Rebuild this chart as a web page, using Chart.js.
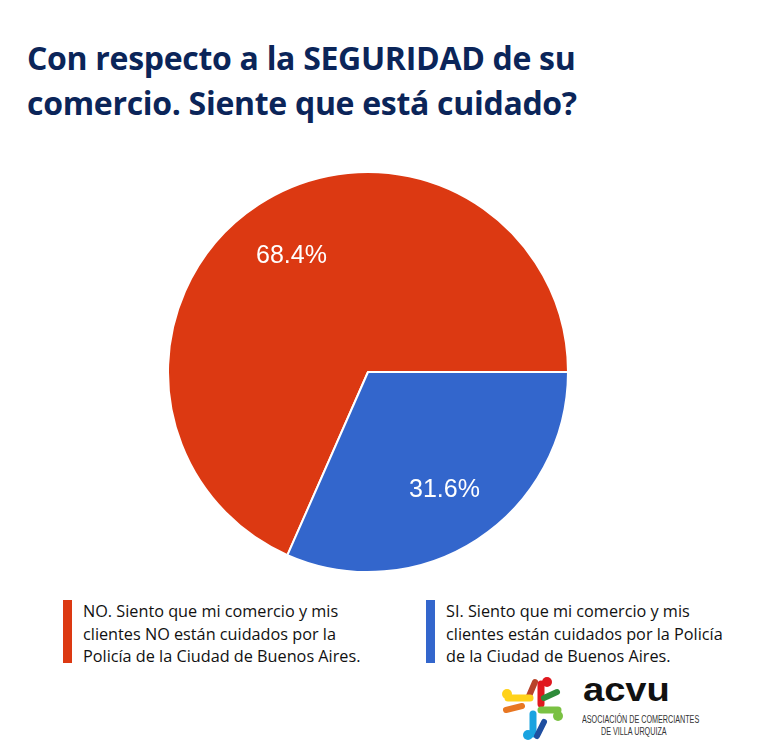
<!DOCTYPE html>
<html>
<head>
<meta charset="utf-8">
<script src="https://cdn.jsdelivr.net/npm/chart.js@4.4.0/dist/chart.umd.min.js"></script>
<style>
  body { margin: 0; background: #fff; width: 770px; height: 756px; position: relative; overflow: hidden; }
  #title { position: absolute; left: 27px; top: 35px; margin: 0; font-family: 'Open Sans', sans-serif; font-weight: 700;
    font-size: 32px; line-height: 45px; color: #0b2559; letter-spacing: -0.3px; white-space: nowrap; }
  #chartBox { position: absolute; left: 163px; top: 167px; width: 410px; height: 410px; }
  .leg { position: absolute; top: 600px; height: 63px; font-family: 'Open Sans', sans-serif; font-size: 17px; line-height: 22.5px;
    color: #111; padding-left: 11px; border-left: 9px solid; white-space: nowrap; transform-origin: left top; }
  #logo { position: absolute; left: 500px; top: 674px; }
  #acvu { position: absolute; left: 583px; top: 672px; font-family: 'Liberation Sans', Arial, sans-serif; font-weight: 700;
    font-size: 34px; line-height: 34px; color: #111; transform: scaleX(1.12); transform-origin: left top; }
  .sub { position: absolute; font-family: 'Liberation Sans', Arial, sans-serif; font-size: 10px; line-height: 10px; color: #333;
    transform-origin: left top; white-space: nowrap; }
</style>
</head>
<body>
<h1 id="title">Con respecto a la SEGURIDAD de su<br>comercio. Siente que está cuidado?</h1>
<div id="chartBox"><canvas id="pie"></canvas></div>
<div id="legend"></div>
<canvas id="logo" width="64" height="68"></canvas>
<div id="acvu">acvu</div>
<div class="sub" style="left:582px; top:715px; transform: scaleX(0.72);">ASOCIACIÓN DE COMERCIANTES</div>
<div class="sub" style="left:601px; top:727px; transform: scaleX(0.72);">DE VILLA URQUIZA</div>
<script>
const labels = [
  'NO. Siento que mi comercio y mis clientes NO están cuidados por la Policía de la Ciudad de Buenos Aires.',
  'SI. Siento que mi comercio y mis clientes están cuidados por la Policía de la Ciudad de Buenos Aires.'
]
const legendLines = [
  ['NO. Siento que mi comercio y mis', 'clientes NO están cuidados por la', 'Policía de la Ciudad de Buenos Aires.'],
  ['SI. Siento que mi comercio y mis', 'clientes están cuidados por la Policía', 'de la Ciudad de Buenos Aires.']
]
const values = [68.4, 31.6]
const colors = ['#dc3912', '#3366cc']

// blue slice begins at 3 o'clock, red follows it
const rotation = 90 + values[1] * 3.6

const pctLabels = {
  id: 'pctLabels',
  afterDatasetsDraw(chart) {
    const ctx = chart.ctx
    const meta = chart.getDatasetMeta(0)
    ctx.save()
    ctx.fillStyle = '#fff'
    ctx.font = '25px "Liberation Sans", Arial, sans-serif'
    ctx.textAlign = 'center'
    ctx.textBaseline = 'middle'
    meta.data.forEach((arc, i) => {
      const mid = (arc.startAngle + arc.endAngle) / 2
      const r = arc.outerRadius * 0.7
      ctx.fillText(values[i].toFixed(1) + '%', arc.x + Math.cos(mid) * r, arc.y + Math.sin(mid) * r + 1)
    })
    ctx.restore()
  }
}

new Chart(document.getElementById('pie'), {
  type: 'pie',
  data: {
    labels: labels,
    datasets: [{
      data: values,
      backgroundColor: colors,
      borderColor: '#ffffff',
      borderWidth: 2,
    }]
  },
  options: {
    responsive: true,
    maintainAspectRatio: false,
    animation: false,
    rotation: rotation,
    layout: { padding: 4 },
    plugins: {
      legend: { display: false },
      tooltip: { enabled: false }
    }
  },
  plugins: [pctLabels]
})

// legend built from the same labels / colours
const legend = document.getElementById('legend')
const legX = [63, 426]
legendLines.forEach((lines, i) => {
  const d = document.createElement('div')
  d.className = 'leg'
  d.style.left = legX[i] + 'px'
  d.style.borderColor = colors[i]
  d.innerHTML = lines.map(t => '<span style="display:inline-block;transform:scaleX(0.955);transform-origin:left">' + t + '</span>').join('<br>')
  legend.appendChild(d)
})

// little logo mark
const lg = document.getElementById('logo').getContext('2d')
lg.lineCap = 'round'
function stroke(c, w, x1, y1, x2, y2) {
  lg.strokeStyle = c; lg.lineWidth = w
  lg.beginPath(); lg.moveTo(x1, y1); lg.lineTo(x2, y2); lg.stroke()
}
function dot(c, x, y, r) {
  lg.fillStyle = c; lg.beginPath(); lg.arc(x, y, r, 0, Math.PI * 2); lg.fill()
}
stroke('#b8432a', 6, 29, 22, 35, 8)
stroke('#e0181f', 7, 41, 30, 41, 10)
dot('#e0181f', 47, 8, 5)
stroke('#2e8b3a', 6, 44, 24, 57, 18)
stroke('#ffd21a', 7, 8, 24, 30, 24)
dot('#ffd21a', 7, 20, 5)
stroke('#e87722', 6, 6, 36, 22, 32)
stroke('#7ac143', 7, 41, 36, 58, 36)
dot('#7ac143', 58, 42, 5)
stroke('#19a3e0', 7, 33, 40, 33, 60)
dot('#19a3e0', 28, 61, 5)
stroke('#1f4fa0', 6, 37, 62, 44, 48)
</script>
</body>
</html>
